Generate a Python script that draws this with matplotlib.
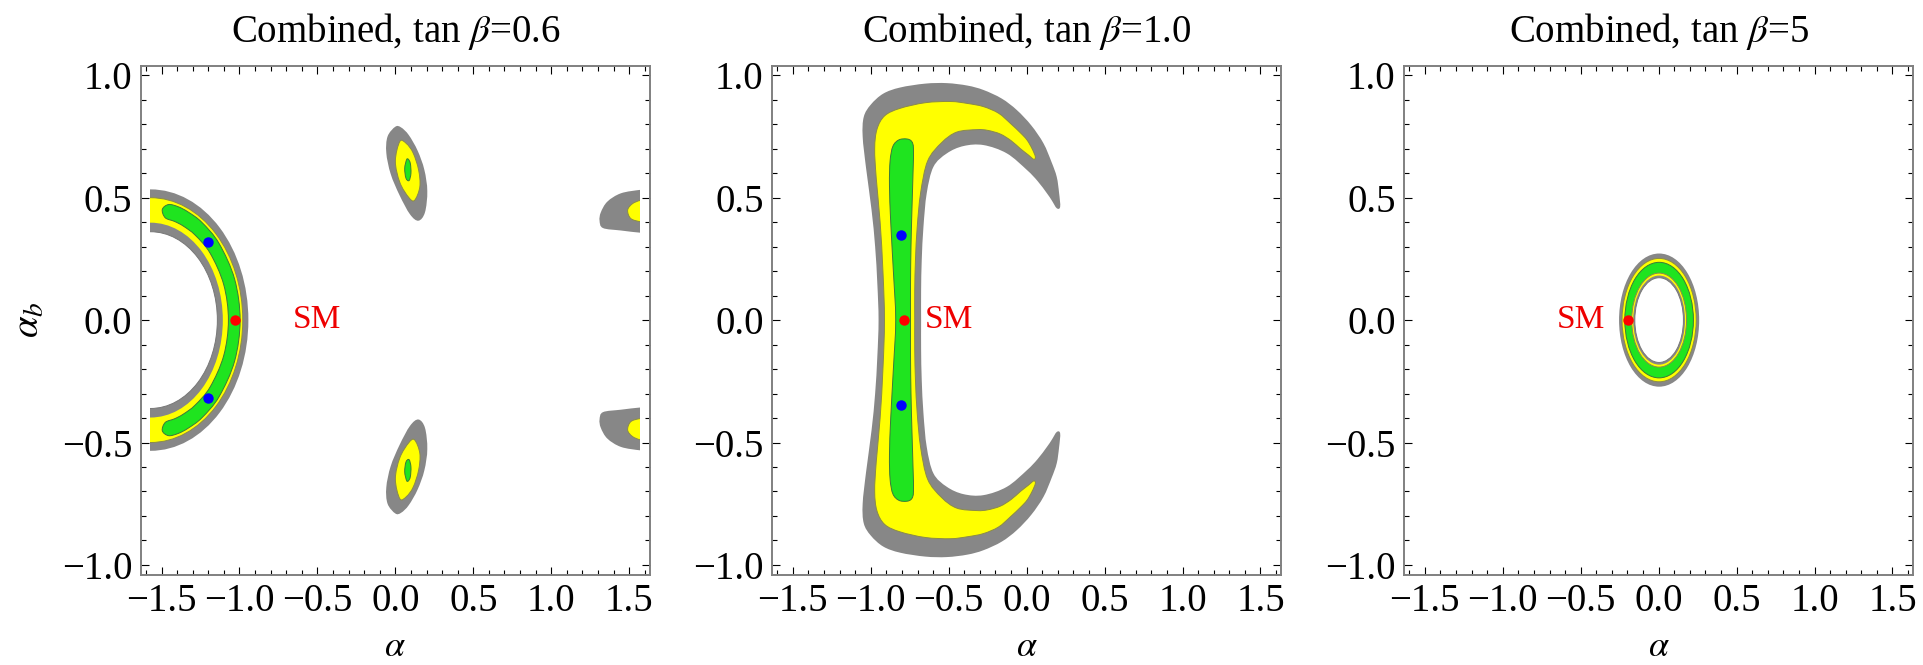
import numpy as np
import matplotlib
matplotlib.use('Agg')
import matplotlib.pyplot as plt
from matplotlib.path import Path
from matplotlib.patches import PathPatch, Ellipse, Rectangle
from matplotlib.ticker import MultipleLocator, FuncFormatter

plt.rcParams['font.family'] = ['Liberation Serif', 'DejaVu Serif']
plt.rcParams['mathtext.fontset'] = 'stix'

# ---------------- data ----------------
titles = ['Combined, tan $\\beta$=0.6', 'Combined, tan $\\beta$=1.0', 'Combined, tan $\\beta$=5']
sm_points = [(-1.030, 0.0), (-0.785, 0.0), (-0.197, 0.0)]
blue_points = [[(-1.20, 0.318), (-1.20, -0.318)], [(-0.805, 0.346), (-0.805, -0.346)], []]
sm_label_pos = (-0.50, 0.0)

# panel 1: concentric elliptic bands centred on the left edge (alpha=-pi/2)
p1_center = (-np.pi / 2, 0.0)
p1_bands = [  # (semi-axis alpha, semi-axis alpha_b, level)
    (0.628, 0.534, 'gray'),
    (0.592, 0.500, 'yellow'),
    (0.464, 0.398, 'gray'),
    (0.429, 0.361, 'white'),
]
# green crescent of panel 1 (upper half, outer edge then inner edge)
p1_green_upper = [(-0.996, 0.0), (-1.031, 0.167), (-1.131, 0.313), (-1.241, 0.399),
                  (-1.328, 0.441), (-1.393, 0.463), (-1.455, 0.472), (-1.495, 0.452),
                  (-1.476, 0.418), (-1.416, 0.403), (-1.360, 0.384), (-1.284, 0.347),
                  (-1.188, 0.273), (-1.101, 0.145), (-1.071, 0.0)]
# small blobs of panel 1 (upper ones; lower ones are their mirror images)
p1_blob_gray = [(0.0, 0.79), (-0.05, 0.75), (-0.058, 0.683), (-0.03, 0.597), (0.027, 0.51),
                (0.094, 0.432), (0.148, 0.406), (0.19, 0.44), (0.205, 0.527), (0.186, 0.614),
                (0.143, 0.692), (0.086, 0.756), (0.037, 0.787)]
p1_blob_yellow = [(0.029, 0.73), (0.0, 0.649), (0.029, 0.562), (0.086, 0.501), (0.123, 0.489),
                  (0.157, 0.544), (0.149, 0.614), (0.114, 0.683), (0.071, 0.721)]
p1_blob_green = [(0.072, 0.655), (0.060, 0.620), (0.068, 0.580), (0.088, 0.570), (0.100, 0.600),
                 (0.096, 0.640), (0.083, 0.657)]
p1_edge_gray = [(1.62, 0.532), (1.571, 0.532), (1.447, 0.518), (1.36, 0.484), (1.318, 0.44),
                (1.31, 0.406), (1.332, 0.376), (1.447, 0.366), (1.571, 0.357), (1.62, 0.357)]
p1_edge_yellow = [(1.62, 0.489), (1.571, 0.489), (1.52, 0.475), (1.49, 0.449), (1.51, 0.415),
                  (1.571, 0.402), (1.62, 0.402)]

# panel 2: C-shaped region (upper half: outer edge from alpha_b=0, round the tip, back on inner edge)
p2_gray_upper = [(-0.950, 0.0), (-0.958, 0.15), (-0.972, 0.30), (-0.995, 0.45), (-1.030, 0.62),
                 (-1.052, 0.75), (-1.045, 0.83), (-1.00, 0.88), (-0.92, 0.925), (-0.812, 0.950),
                 (-0.65, 0.966), (-0.512, 0.968), (-0.38, 0.958), (-0.277, 0.940), (-0.16, 0.905),
                 (-0.063, 0.858), (0.03, 0.795), (0.108, 0.722), (0.160, 0.645), (0.193, 0.585),
                 (0.208, 0.52), (0.215, 0.463), (0.193, 0.457), (0.160, 0.49), (0.130, 0.518),
                 (0.07, 0.568), (0.002, 0.613), (-0.127, 0.681), (-0.277, 0.715), (-0.405, 0.711),
                 (-0.512, 0.681), (-0.598, 0.626), (-0.641, 0.518), (-0.662, 0.381), (-0.673, 0.245),
                 (-0.677, 0.12), (-0.677, 0.0)]
p2_yellow_upper = [(-0.912, 0.0), (-0.922, 0.2), (-0.94, 0.4), (-0.965, 0.58), (-0.975, 0.70),
                   (-0.96, 0.78), (-0.91, 0.835), (-0.812, 0.865), (-0.65, 0.888), (-0.489, 0.893),
                   (-0.38, 0.885), (-0.277, 0.872), (-0.18, 0.845), (-0.105, 0.804), (-0.04, 0.765),
                   (0.002, 0.736), (0.035, 0.70), (0.056, 0.667), (0.045, 0.657), (0.01, 0.675),
                   (-0.040, 0.700), (-0.10, 0.733), (-0.169, 0.760), (-0.25, 0.775), (-0.319, 0.778),
                   (-0.448, 0.768), (-0.545, 0.725), (-0.635, 0.650), (-0.680, 0.520), (-0.702, 0.38),
                   (-0.713, 0.25), (-0.718, 0.12), (-0.718, 0.0)]
p2_green_upper = [(-0.840, 0.0), (-0.855, 0.2), (-0.872, 0.4), (-0.880, 0.55), (-0.876, 0.65),
                  (-0.858, 0.71), (-0.820, 0.736), (-0.770, 0.740), (-0.738, 0.730), (-0.726, 0.70),
                  (-0.729, 0.6), (-0.736, 0.45), (-0.742, 0.3), (-0.745, 0.15), (-0.745, 0.0)]

# panel 3: elliptic ring
p3_center = (0.003, 0.0)
p3_bands = [
    (0.257, 0.272, 'gray'),
    (0.238, 0.252, 'yellow'),
    (0.220, 0.236, 'green'),
    (0.176, 0.192, 'yellow'),
    (0.166, 0.182, 'gray'),
    (0.156, 0.173, 'white'),
]

COL = {'gray': '#878787', 'yellow': '#ffff00', 'green': '#1fe41f', 'white': 'white'}
EDGE = {'gray': 'none', 'yellow': '#8a8a4a', 'green': '#3a7a3a', 'white': '#777777'}

XLIM = (-1.6336, 1.6336)
YLIM = (-1.04, 1.04)


def smooth_path(pts):
    P = np.asarray(pts, float)
    n = len(P)
    verts = [P[0]]
    codes = [Path.MOVETO]
    for i in range(n):
        p0, p1, p2, p3 = P[i - 1], P[i], P[(i + 1) % n], P[(i + 2) % n]
        verts += [p1 + (p2 - p0) / 6.0, p2 - (p3 - p1) / 6.0, p2]
        codes += [Path.CURVE4] * 3
    verts.append(P[0])
    codes.append(Path.CLOSEPOLY)
    return Path(verts, codes)


def mirror_closed(upper):
    lower = [(x, -y) for (x, y) in reversed(upper[1:-1])]
    return list(upper) + lower


def mirror(pts):
    return [(x, -y) for (x, y) in pts]


def add_shape(ax, pts, level, clip, lw=0.7):
    p = PathPatch(smooth_path(pts), facecolor=COL[level], edgecolor=EDGE[level], lw=lw, zorder=2)
    ax.add_patch(p)
    p.set_clip_path(clip)


def add_ellipse(ax, center, a, b, level, clip, lw=0.7):
    e = Ellipse(center, 2 * a, 2 * b, facecolor=COL[level], edgecolor=EDGE[level], lw=lw, zorder=2)
    ax.add_patch(e)
    e.set_clip_path(clip)


def fmt(v, pos):
    s = '%.1f' % abs(v)
    return ('\u2212' + s) if v < -1e-9 else s


fig = plt.figure(figsize=(19.24, 6.65), dpi=100)
lefts = [140.7, 772.0, 1404.0]
W, H = 1924.0, 665.0
for i, lx in enumerate(lefts):
    ax = fig.add_axes([lx / W, (H - 574.7) / H, 509.3 / W, 509.2 / H])
    ax.set_xlim(*XLIM)
    ax.set_ylim(*YLIM)
    clip = Rectangle((-np.pi / 2, -1.0), np.pi, 2.0, transform=ax.transData)

    if i == 0:
        for a, b, lev in p1_bands:
            add_ellipse(ax, p1_center, a, b, lev, clip)
        add_shape(ax, mirror_closed(p1_green_upper), 'green', clip)
        for pts in (p1_blob_gray, mirror(p1_blob_gray)):
            add_shape(ax, pts, 'gray', clip)
        for pts in (p1_blob_yellow, mirror(p1_blob_yellow)):
            add_shape(ax, pts, 'yellow', clip)
        for pts in (p1_blob_green, mirror(p1_blob_green)):
            add_shape(ax, pts, 'green', clip)
        for pts in (p1_edge_gray, mirror(p1_edge_gray)):
            add_shape(ax, pts, 'gray', clip)
        for pts in (p1_edge_yellow, mirror(p1_edge_yellow)):
            add_shape(ax, pts, 'yellow', clip)
    elif i == 1:
        add_shape(ax, mirror_closed(p2_gray_upper), 'gray', clip)
        add_shape(ax, mirror_closed(p2_yellow_upper), 'yellow', clip)
        add_shape(ax, mirror_closed(p2_green_upper), 'green', clip)
    else:
        for a, b, lev in p3_bands:
            add_ellipse(ax, p3_center, a, b, lev, clip)

    bx = [p[0] for p in blue_points[i]]
    by = [p[1] for p in blue_points[i]]
    if bx:
        ax.plot(bx, by, 'o', color='#0000ff', ms=7.5, mec='none', zorder=5)
    ax.plot([sm_points[i][0]], [sm_points[i][1]], 'o', color='#ff0000', ms=7.5, mec='none', zorder=5)
    ax.text(sm_label_pos[0], sm_label_pos[1], 'SM', color='#ee0000', fontsize=24,
            ha='center', va='center', zorder=6)

    ax.set_title(titles[i], fontsize=28, pad=17)
    ax.set_xlabel(r'$\alpha$', fontsize=26, labelpad=8)
    if i == 0:
        ax.set_ylabel(r'$\alpha_b$', fontsize=28, labelpad=10)

    ax.xaxis.set_major_locator(MultipleLocator(0.5))
    ax.xaxis.set_minor_locator(MultipleLocator(0.1))
    ax.yaxis.set_major_locator(MultipleLocator(0.5))
    ax.yaxis.set_minor_locator(MultipleLocator(0.1))
    ax.xaxis.set_major_formatter(FuncFormatter(fmt))
    ax.yaxis.set_major_formatter(FuncFormatter(fmt))
    ax.tick_params(which='both', direction='in', top=True, right=True, color='black', width=0.8)
    ax.tick_params(which='major', length=6, labelsize=28, pad=6)
    ax.tick_params(which='minor', length=3.3)
    for s in ax.spines.values():
        s.set_color('#808080')
        s.set_linewidth(1.4)

fig.savefig('out.png', dpi=100, facecolor='white')
